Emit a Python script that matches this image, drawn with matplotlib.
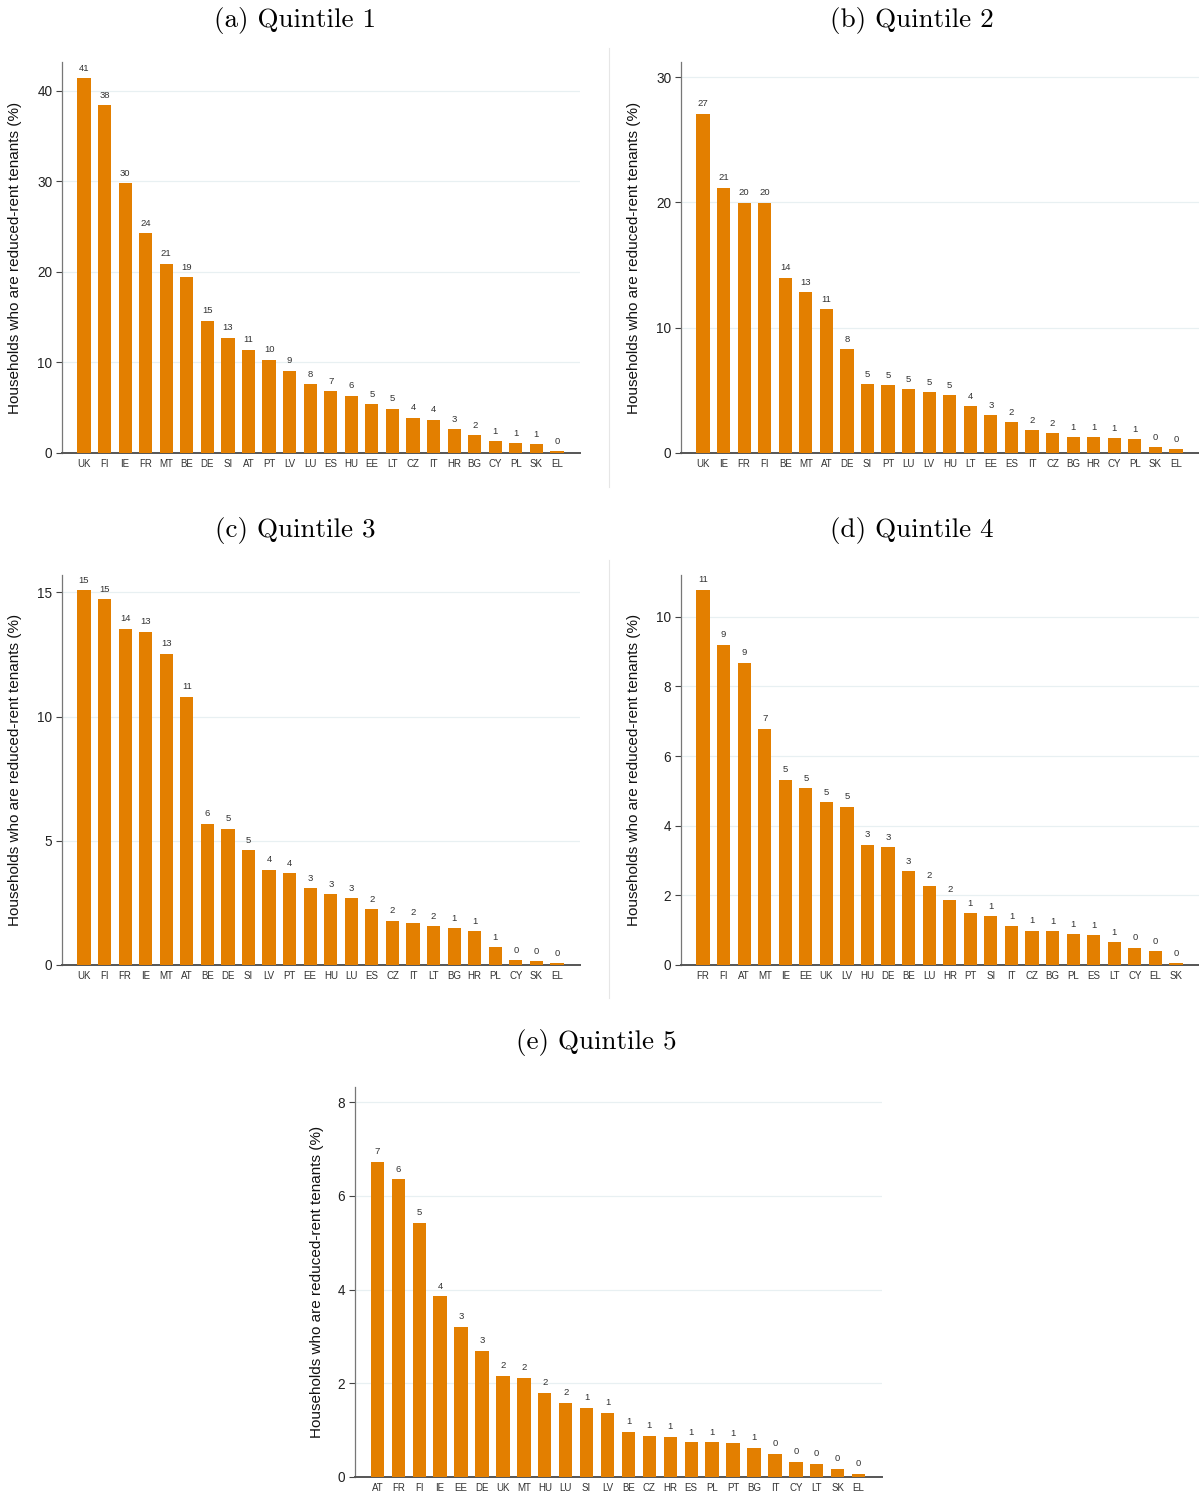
import numpy as np
import matplotlib.pyplot as plt

plt.rcParams['font.family'] = ['Liberation Sans', 'DejaVu Sans']

# data per income quintile (share of households who are reduced-rent tenants, %)
q1_countries = ['UK', 'FI', 'IE', 'FR', 'MT', 'BE', 'DE', 'SI', 'AT', 'PT', 'LV', 'LU',
                'ES', 'HU', 'EE', 'LT', 'CZ', 'IT', 'HR', 'BG', 'CY', 'PL', 'SK', 'EL']
q1_values = [41.4, 38.4, 29.8, 24.3, 20.9, 19.4, 14.6, 12.7, 11.4, 10.3, 9.1, 7.6,
             6.8, 6.3, 5.4, 4.9, 3.9, 3.7, 2.6, 1.95, 1.3, 1.07, 0.96, 0.2]

q2_countries = ['UK', 'IE', 'FR', 'FI', 'BE', 'MT', 'AT', 'DE', 'SI', 'PT', 'LU', 'LV',
                'HU', 'LT', 'EE', 'ES', 'IT', 'CZ', 'BG', 'HR', 'CY', 'PL', 'SK', 'EL']
q2_values = [27.07, 21.16, 19.98, 19.96, 13.96, 12.84, 11.48, 8.29, 5.49, 5.41, 5.09, 4.85,
             4.61, 3.73, 3.01, 2.45, 1.81, 1.57, 1.25, 1.24, 1.17, 1.09, 0.45, 0.29]

q3_countries = ['UK', 'FI', 'FR', 'IE', 'MT', 'AT', 'BE', 'DE', 'SI', 'LV', 'PT', 'EE',
                'HU', 'LU', 'ES', 'CZ', 'IT', 'LT', 'BG', 'HR', 'PL', 'CY', 'SK', 'EL']
q3_values = [15.09, 14.73, 13.53, 13.41, 12.52, 10.8, 5.69, 5.49, 4.61, 3.84, 3.70, 3.08,
             2.84, 2.68, 2.24, 1.79, 1.71, 1.55, 1.47, 1.35, 0.71, 0.19, 0.15, 0.07]

q4_countries = ['FR', 'FI', 'AT', 'MT', 'IE', 'EE', 'UK', 'LV', 'HU', 'DE', 'BE', 'LU',
                'HR', 'PT', 'SI', 'IT', 'CZ', 'BG', 'PL', 'ES', 'LT', 'CY', 'EL', 'SK']
q4_values = [10.77, 9.2, 8.68, 6.79, 5.32, 5.07, 4.67, 4.55, 3.46, 3.38, 2.69, 2.28,
             1.88, 1.48, 1.40, 1.11, 0.99, 0.97, 0.88, 0.85, 0.65, 0.49, 0.39, 0.05]

q5_countries = ['AT', 'FR', 'FI', 'IE', 'EE', 'DE', 'UK', 'MT', 'HU', 'LU', 'SI', 'LV',
                'BE', 'CZ', 'HR', 'ES', 'PL', 'PT', 'BG', 'IT', 'CY', 'LT', 'SK', 'EL']
q5_values = [6.72, 6.35, 5.42, 3.86, 3.20, 2.69, 2.16, 2.12, 1.80, 1.58, 1.48, 1.37,
             0.97, 0.88, 0.86, 0.74, 0.74, 0.72, 0.62, 0.49, 0.33, 0.28, 0.18, 0.07]

titles = ['(a) Quintile 1', '(b) Quintile 2', '(c) Quintile 3', '(d) Quintile 4', '(e) Quintile 5']
yticks = [[0, 10, 20, 30, 40], [0, 10, 20, 30], [0, 5, 10, 15],
          [0, 2, 4, 6, 8, 10], [0, 2, 4, 6, 8]]
ytops = [43.2, 31.2, 15.7, 11.2, 8.32]

bar_color = '#e37f00'
W, H = 1199, 1491

fig = plt.figure(figsize=(W / 100, H / 100), dpi=100)

# axes boxes in pixels: left, bottom (zero line), top, width, y-label offset
boxes = [(62, 453, 62, 518, 40), (681, 453, 62, 518, 40), (62, 965, 575, 518, 40),
         (681, 965, 575, 518, 40), (355, 1477, 1087, 527, 31)]
title_pos = [(295, 20), (912, 20), (295, 531), (912, 531), (596, 1043)]

data = [(q1_countries, q1_values), (q2_countries, q2_values), (q3_countries, q3_values),
        (q4_countries, q4_values), (q5_countries, q5_values)]

for i, (countries, values) in enumerate(data):
    left, bot, top, axw, lab_off = boxes[i]
    ax = fig.add_axes([left / W, 1 - bot / H, axw / W, (bot - top) / H])
    x = np.arange(len(countries))
    ax.bar(x, values, width=0.64, color=bar_color, zorder=3)
    for xi, v in zip(x, values):
        ax.annotate(f'{round(v):d}', (xi, v), xytext=(0, 4), textcoords='offset points',
                    ha='center', va='bottom', fontsize=6.8, color='#333333')
    ax.set_xlim(-1.07, len(countries) - 1 + 1.12)
    ax.set_ylim(0, ytops[i])
    ax.set_xticks(x)
    ax.set_xticklabels(countries, fontsize=7, color='#333333')
    ax.set_yticks(yticks[i])
    ax.tick_params(axis='x', length=0, pad=4)
    ax.tick_params(axis='y', length=4, width=0.8, color='#444444', labelsize=9.8,
                   labelcolor='#222222', pad=3)
    for yv in yticks[i][1:]:
        ax.axhline(yv, color='#e8f0f2', lw=0.9, zorder=1)
    for s in ['top', 'right']:
        ax.spines[s].set_visible(False)
    ax.spines['left'].set_color('#777777')
    ax.spines['left'].set_linewidth(0.9)
    ax.spines['bottom'].set_color('#555555')
    ax.spines['bottom'].set_linewidth(1.4)
    ax.set_ylabel('Households who are reduced-rent tenants (%)', fontsize=11, color='#111111')
    ax.yaxis.set_label_coords(-lab_off / axw, 0.5)
    tx, ty = title_pos[i]
    fig.text(tx / W, 1 - ty / H, titles[i], ha='center', va='center',
             fontsize=19.5, family='cmr10')

# thin separators between left and right panels
for y0, y1 in [(48, 487), (560, 998)]:
    fig.add_artist(plt.Line2D([609 / W, 609 / W], [1 - y0 / H, 1 - y1 / H],
                              color='#e6e6e6', lw=0.8))

fig.savefig('out.png', dpi=100)
